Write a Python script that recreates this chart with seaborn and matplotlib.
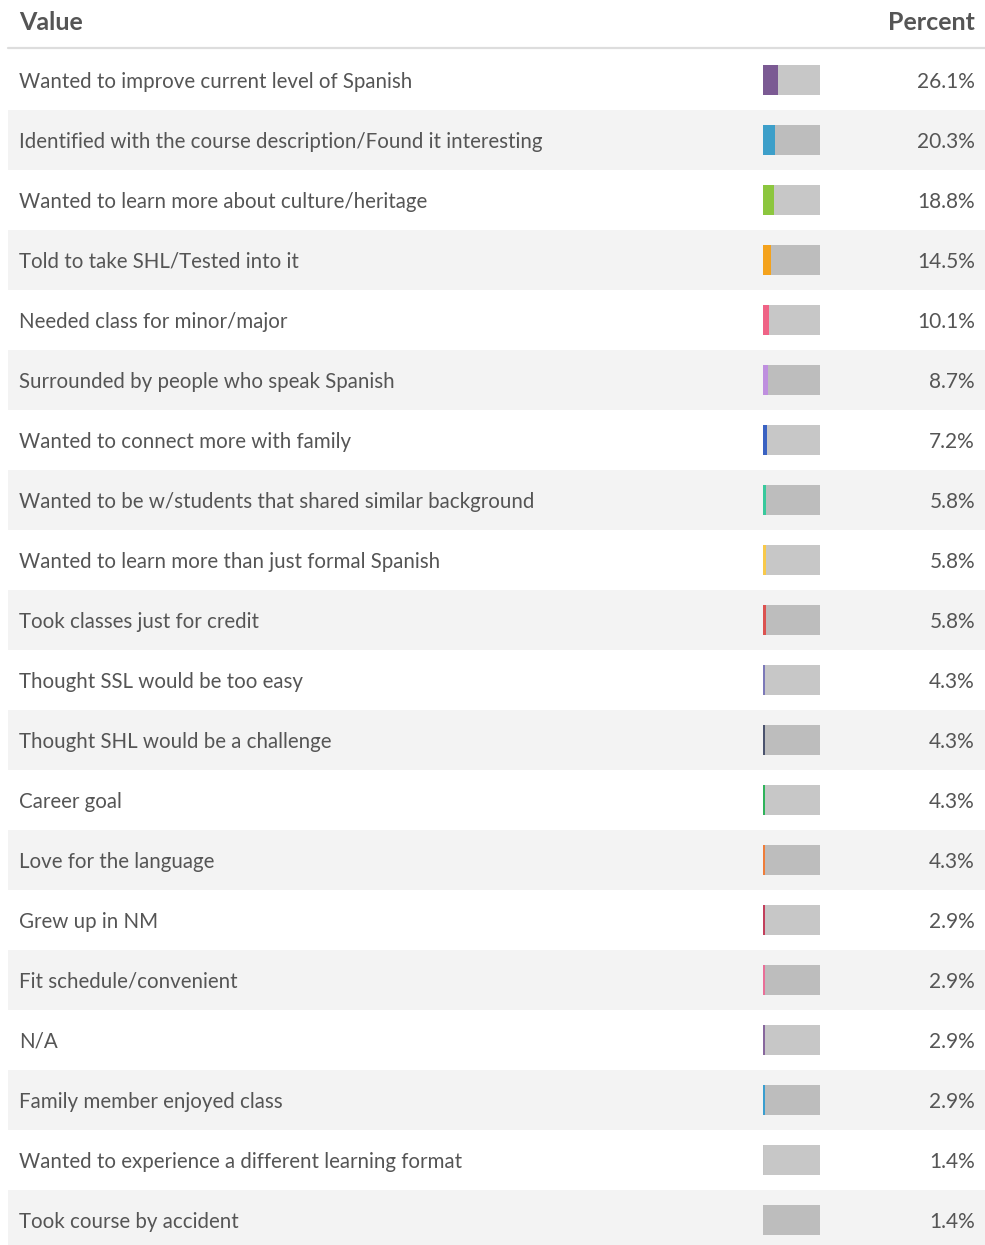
import matplotlib
matplotlib.use("Agg")
import matplotlib.pyplot as plt
import seaborn as sns

sns.set_theme(style="white")
plt.rcParams["font.family"] = ["Lato", "DejaVu Sans"]

labels = [
    "Wanted to improve current level of Spanish",
    "Identified with the course description/Found it interesting",
    "Wanted to learn more about culture/heritage",
    "Told to take SHL/Tested into it",
    "Needed class for minor/major",
    "Surrounded by people who speak Spanish",
    "Wanted to connect more with family",
    "Wanted to be w/students that shared similar background",
    "Wanted to learn more than just formal Spanish",
    "Took classes just for credit",
    "Thought SSL would be too easy",
    "Thought SHL would be a challenge",
    "Career goal",
    "Love for the language",
    "Grew up in NM",
    "Fit schedule/convenient",
    "N/A",
    "Family member enjoyed class",
    "Wanted to experience a different learning format",
    "Took course by accident",
]
percents = [26.1, 20.3, 18.8, 14.5, 10.1, 8.7, 7.2, 5.8, 5.8, 5.8,
            4.3, 4.3, 4.3, 4.3, 2.9, 2.9, 2.9, 2.9, 1.4, 1.4]
colors = [
    "#7b5a93", "#3d9fc9", "#8cc63e", "#f4a21c", "#ef6386",
    "#bf8fdf", "#3a62c2", "#38c99c", "#f8c94a", "#dc5250",
    "#7c79b8", "#4b536e", "#2fb35b", "#ef7d3a", "#c23f5c",
    "#e96f98", "#87679d", "#3a9ecf", "#c4c4c4", "#bdbdbd",
]
header_left = "Value"
header_right = "Percent"

W, H = 985, 1245
fig = plt.figure(figsize=(W / 100, H / 100), dpi=100)

n = len(labels)
row_h = 60
top = 50
left = 8
table_w = W - left
bottom_px = top + n * row_h
ax_bottom = (H - bottom_px) / H
ax_height = n * row_h / H

text_color = "#555555"
text_dy = 2 / row_h  # nudge row text slightly below the row centre

# Striped row backgrounds and text columns
bg = fig.add_axes([left / W, ax_bottom, table_w / W, ax_height])
bg.set_xlim(0, table_w)
bg.set_ylim(n - 0.5, -0.5)
bg.axis("off")
for i in range(n):
    if i % 2 == 1:
        bg.axhspan(i - 0.5, i + 0.5, color="#f3f3f3", lw=0, zorder=0)
    bg.text(19 - left, i + text_dy, labels[i], ha="left", va="center",
            fontsize=14.8, color=text_color)
    bg.text(975 - left, i + text_dy, f"{percents[i]:.1f}%", ha="right",
            va="center", fontsize=15, color=text_color)

# Header row and divider line
fig.text(19 / W, 1 - 22 / H, header_left, ha="left", va="center",
         fontsize=18, fontweight="bold", color=text_color)
fig.text(975 / W, 1 - 22 / H, header_right, ha="right", va="center",
         fontsize=18, fontweight="bold", color=text_color)
fig.add_artist(plt.Line2D([left / W, 1], [1 - 48 / H, 1 - 48 / H],
                          color="#dddddd", lw=1.6, transform=fig.transFigure))

# Mini progress bars: grey track with coloured fill
bar_left, bar_w = 763, 57
bax = fig.add_axes([bar_left / W, ax_bottom, bar_w / W, ax_height])
bax.patch.set_alpha(0)
track = [100] * n
sns.barplot(x=track, y=labels, orient="h", color="black", alpha=0.22,
            width=0.5, saturation=1, linewidth=0, ax=bax)
sns.barplot(x=percents, y=labels, hue=labels, palette=colors, orient="h",
            width=0.5, saturation=1, linewidth=0, legend=False, ax=bax)
bax.set_xlim(0, 100)
bax.set_ylim(n - 0.5, -0.5)
bax.axis("off")

fig.savefig("out.png", dpi=100)
